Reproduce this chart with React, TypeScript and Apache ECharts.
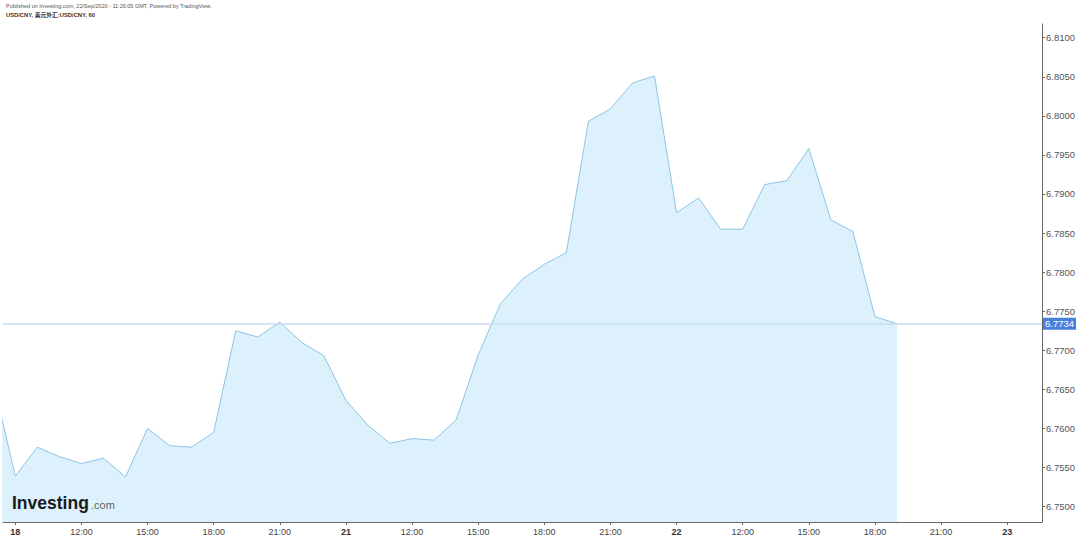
import React, { useEffect, useRef } from "react";
import * as echarts from "echarts";

// hourly bar index (0 = 18 Sep 09:00, 15 bars per day), -1 = previous bar
const barIndex: number[] = [
  -1, 0, 1, 2, 3, 4, 5, 6, 7, 8, 9, 10, 11, 12, 13, 14, 15, 16, 17, 18, 19, 20,
  21, 22, 23, 24, 25, 26, 27, 28, 29, 30, 31, 32, 33, 34, 35, 36, 37, 38, 39, 40,
];
const closeValues: number[] = [
  6.766, 6.7539, 6.7576, 6.7564, 6.7555, 6.7562, 6.7538, 6.76, 6.7578, 6.7576,
  6.7595, 6.7725, 6.7717, 6.7736, 6.771, 6.7693, 6.7636, 6.7604, 6.7581, 6.7587,
  6.7585, 6.7611, 6.7694, 6.7759, 6.7791, 6.781, 6.7825, 6.7993, 6.8009, 6.8042,
  6.8051, 6.7876, 6.7895, 6.7855, 6.7855, 6.7912, 6.7917, 6.7958, 6.7867, 6.7852,
  6.7743, 6.7734,
];
const lastPrice = 6.7734;

const xTickIndex: number[] = [0, 3, 6, 9, 12, 15, 18, 21, 24, 27, 30, 33, 36, 39, 42, 45];
const xTickLabels: string[] = [
  "18", "12:00", "15:00", "18:00", "21:00", "21", "12:00", "15:00", "18:00", "21:00",
  "22", "12:00", "15:00", "18:00", "21:00", "23",
];
const dayLabels: string[] = ["18", "21", "22", "23"];
const yTicks: number[] = [
  6.75, 6.755, 6.76, 6.765, 6.77, 6.775, 6.78, 6.785, 6.79, 6.795, 6.8, 6.805, 6.81,
];

const headerLine1 = "Published on Investing.com, 22/Sep/2020 - 11:26:05 GMT, Powered by TradingView.";
const headerLine2 = "USD/CNY, 美元外汇:USD/CNY, 60";

const FONT = "Arial, 'Liberation Sans', sans-serif";

export default function App() {
  const ref = useRef<HTMLDivElement>(null);
  useEffect(() => {
    if (!ref.current) return;
    const chart = echarts.init(ref.current, undefined, { renderer: "svg" });
    const data = barIndex.map((i, k) => [i, closeValues[k]]);
    chart.setOption({
      animation: false,
      textStyle: { fontFamily: FONT },
      grid: { left: 3, right: 38, top: 24, bottom: 17, containLabel: false },
      xAxis: {
        type: "value",
        min: -0.558,
        max: 46.58,
        splitLine: { show: false },
        axisLine: { show: true, onZero: false, lineStyle: { color: "#666", width: 1 } },
        axisTick: { show: true, length: 3, customValues: xTickIndex, lineStyle: { color: "#666" } },
        axisLabel: {
          customValues: xTickIndex,
          margin: 5,
          fontSize: 9,
          color: "#444",
          fontFamily: FONT,
          formatter: (v: number) => {
            const k = xTickIndex.indexOf(Math.round(v));
            const s = k >= 0 ? xTickLabels[k] : "";
            return dayLabels.includes(s) ? `{b|${s}}` : s;
          },
          rich: { b: { fontWeight: "bold", fontSize: 9, color: "#333", fontFamily: FONT } },
        },
      },
      yAxis: {
        type: "value",
        position: "right",
        min: 6.74803,
        max: 6.81175,
        splitLine: { show: false },
        axisLine: { show: true, onZero: false, lineStyle: { color: "#666", width: 1 } },
        axisTick: { show: true, length: 3, customValues: yTicks, lineStyle: { color: "#666" } },
        axisLabel: {
          customValues: yTicks,
          margin: 4,
          fontSize: 9.5,
          color: "#555",
          fontFamily: FONT,
          formatter: (v: number) => v.toFixed(4),
        },
      },
      series: [
        {
          type: "line",
          data,
          symbol: "none",
          lineStyle: { color: "#8cc6e4", width: 1 },
          areaStyle: { color: "#dcf1fb", opacity: 1, origin: "start" },
          markLine: {
            silent: true,
            symbol: "none",
            precision: 4,
            lineStyle: { color: "#c8dcf0", width: 1.5, type: "solid" },
            label: {
              show: true,
              position: "end",
              distance: 1,
              formatter: () => lastPrice.toFixed(4),
              backgroundColor: "#4a7fdc",
              color: "#fff",
              fontSize: 9.5,
              fontFamily: FONT,
              padding: [1, 2, 1, 2],
            },
            data: [{ yAxis: lastPrice }],
          },
        },
      ],
      graphic: [
        {
          type: "text",
          left: 6,
          top: 3,
          style: { text: headerLine1, fontSize: 5.5, fill: "#555", fontFamily: FONT },
        },
        {
          type: "text",
          left: 6,
          top: 12,
          style: { text: headerLine2, fontSize: 5.8, fontWeight: "bold", fill: "#333", fontFamily: "Arial, 'Noto Sans CJK SC', sans-serif" },
        },
        {
          type: "text",
          left: 12,
          top: 494,
          z: 100,
          style: { text: "Investing", fontSize: 17.5, fontWeight: 900, fill: "#1a1a1a", fontFamily: FONT },
        },
        {
          type: "text",
          left: 91,
          top: 499,
          z: 100,
          style: { text: ".com", fontSize: 11, fill: "#666", fontFamily: FONT },
        },
      ],
    });
    return () => chart.dispose();
  }, []);
  return (
    <div
      ref={ref}
      style={{ position: "fixed", left: 0, top: 0, width: 1080, height: 539, background: "#fff" }}
    />
  );
}
